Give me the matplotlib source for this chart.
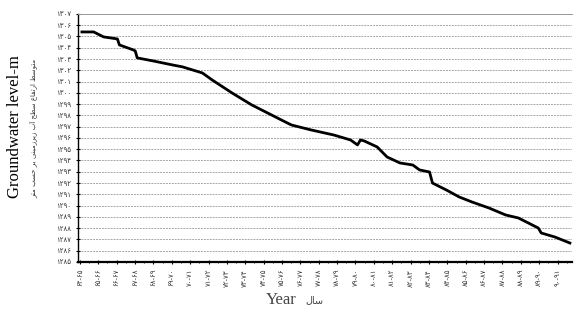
import unicodedata
import numpy as np
import matplotlib
matplotlib.use('Agg')
from matplotlib import pyplot as plt
from matplotlib.ticker import MultipleLocator

# year index (0 = 64-65) and groundwater level
year_idx = [0.11, 0.75, 1.29, 2.04, 2.15, 2.90, 3.01, 3.12, 3.98, 5.05, 5.59, 6.67,
            7.20, 8.28, 9.35, 10.97, 11.51, 12.58, 13.82, 14.73, 15.11, 15.27, 15.48,
            16.18, 16.72, 17.42, 18.12, 18.49, 19.03, 19.19, 19.95, 20.65, 21.34,
            22.26, 23.17, 23.87, 24.95, 25.11, 25.86, 26.67]
level = [1305.40, 1305.40, 1304.96, 1304.78, 1304.25, 1303.81, 1303.72, 1303.10,
         1302.83, 1302.47, 1302.30, 1301.76, 1301.14, 1299.99, 1298.93, 1297.59,
         1297.15, 1296.71, 1296.26, 1295.82, 1295.38, 1295.82, 1295.73, 1295.20,
         1294.31, 1293.78, 1293.60, 1293.16, 1292.98, 1292.00, 1291.38, 1290.76,
         1290.32, 1289.79, 1289.17, 1288.90, 1288.01, 1287.57, 1287.21, 1286.68]

fa_digits = str.maketrans('0123456789', '۰۱۲۳۴۵۶۷۸۹')
start_years = list(range(64, 91))
x_labels = [('%d-%d' % (y, y + 1)).translate(fa_digits) for y in start_years]
y_ticks = list(range(1285, 1308))
y_labels = [str(v).translate(fa_digits) for v in y_ticks]

ylabel_fa = 'متوسط ارتفاع سطح آب زیرزمینی بر حسب متر'
xlabel_fa = 'سال'


# matplotlib has no arabic shaping, so pick presentation forms by hand
forms = {}
for cp in range(0xFB50, 0xFEFF):
    d = unicodedata.decomposition(chr(cp))
    if d.startswith('<'):
        tag, rest = d[1:].split('>')
        parts = rest.split()
        if tag in ('isolated', 'final', 'initial', 'medial') and len(parts) == 1:
            forms.setdefault(chr(int(parts[0], 16)), {}).setdefault(tag, chr(cp))


def shape(s):
    def joins_next(c):
        return c in forms and ('initial' in forms[c] or 'medial' in forms[c])

    def joins_prev(c):
        return c in forms and ('final' in forms[c] or 'medial' in forms[c])

    out = []
    for i, c in enumerate(s):
        if c not in forms:
            out.append(c)
            continue
        jp = i > 0 and joins_next(s[i - 1]) and joins_prev(c)
        jn = i < len(s) - 1 and joins_next(c) and joins_prev(s[i + 1])
        f = forms[c]
        if jp and jn and 'medial' in f:
            out.append(f['medial'])
        elif jp and 'final' in f:
            out.append(f['final'])
        elif jn and 'initial' in f:
            out.append(f['initial'])
        else:
            out.append(f.get('isolated', c))
    return ''.join(out[::-1])


fig = plt.figure(figsize=(5.74, 3.16), dpi=100)
ax = fig.add_axes([0.136, 0.171, 0.861, 0.785])

ax.plot(year_idx, level, color='black', linewidth=2.0)

ax.set_xlim(-0.1, 26.8)
ax.set_ylim(1285, 1307)
ax.set_xticks(range(len(x_labels)))
ax.set_xticklabels(x_labels, rotation=90, fontsize=5, color='#333333')
ax.xaxis.set_minor_locator(MultipleLocator(0.5))
ax.set_yticks(y_ticks)
ax.set_yticklabels(y_labels, fontsize=5, color='#333333')
ax.tick_params(axis='both', which='major', length=3, width=0.8, direction='inout')
ax.tick_params(axis='x', which='minor', length=2, width=0.6, direction='inout')

ax.yaxis.grid(True, linestyle=(0, (2, 1)), color='#a8a8a8', linewidth=0.7)
ax.set_axisbelow(True)

ax.spines['right'].set_visible(False)
ax.spines['top'].set_color('#999999')
ax.spines['top'].set_linewidth(0.7)
ax.spines['left'].set_linewidth(1.0)
ax.spines['bottom'].set_linewidth(1.6)

fig.text(0.027, 0.60, 'Groundwater level-m', rotation=90, ha='center', va='center',
         family='Liberation Serif', fontsize=12)
fig.text(0.058, 0.595, shape(ylabel_fa), rotation=90, ha='center', va='center',
         fontsize=5, color='#333333')
fig.text(0.49, 0.05, 'Year', ha='center', va='center',
         family='Liberation Serif', fontsize=12, color='#444444')
fig.text(0.548, 0.05, shape(xlabel_fa), ha='center', va='center',
         fontsize=7, color='#444444')

fig.savefig('out.png', dpi=100)
